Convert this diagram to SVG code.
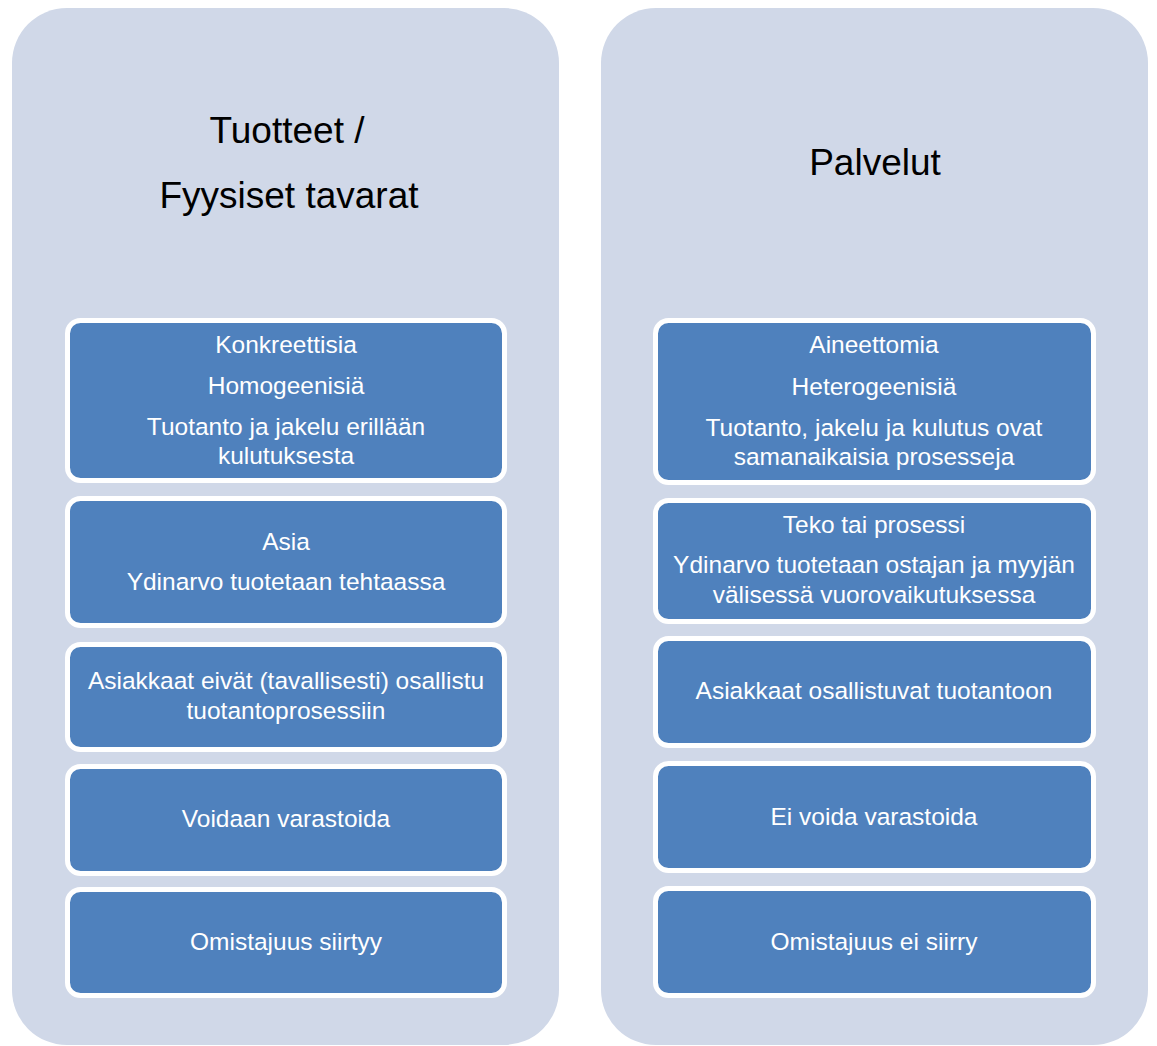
<svg xmlns="http://www.w3.org/2000/svg" width="1157" height="1046" viewBox="0 0 1157 1046">
<style>
.cont{fill:#D0D8E8}
.box rect{fill:#4F81BD;stroke:#FFFFFF;stroke-width:5}
.box text{fill:#FFFFFF;font-family:"Liberation Sans",Arial,sans-serif;font-size:24.5px;text-anchor:middle}
.title{fill:#000000;font-family:"Liberation Sans",Arial,sans-serif;font-size:37px;text-anchor:middle}
</style>
<rect width="1157" height="1046" fill="#FFFFFF"/>
<g id="col-tuotteet">
<rect class="cont" x="12" y="8" width="547" height="1037" rx="55" ry="55"/>
<text class="title" x="287" y="143">Tuotteet /</text>
<text class="title" x="289" y="208">Fyysiset tavarat</text>
</g>
<g id="col-palvelut">
<rect class="cont" x="601" y="8" width="547" height="1037" rx="55" ry="55"/>
<text class="title" x="875" y="175">Palvelut</text>
</g>
<g id="connectors"></g>
<g id="l1" class="box"><rect x="67.5" y="320.5" width="437" height="160" rx="13"/>
<text x="286" y="353">Konkreettisia</text><text x="286" y="394">Homogeenisiä</text><text x="286" y="435">Tuotanto ja jakelu erillään</text><text x="286" y="464">kulutuksesta</text></g>
<g id="l2" class="box"><rect x="67.5" y="498.5" width="437" height="127" rx="13"/>
<text x="286" y="550">Asia</text><text x="286" y="590">Ydinarvo tuotetaan tehtaassa</text></g>
<g id="l3" class="box"><rect x="67.5" y="644.5" width="437" height="105" rx="13"/>
<text x="286" y="689">Asiakkaat eivät (tavallisesti) osallistu</text><text x="286" y="719">tuotantoprosessiin</text></g>
<g id="l4" class="box"><rect x="67.5" y="766.5" width="437" height="107" rx="13"/>
<text x="286" y="827">Voidaan varastoida</text></g>
<g id="l5" class="box"><rect x="67.5" y="889.5" width="437" height="106" rx="13"/>
<text x="286" y="950">Omistajuus siirtyy</text></g>
<g id="r1" class="box"><rect x="655.5" y="320.5" width="438" height="162" rx="13"/>
<text x="874" y="353">Aineettomia</text><text x="874" y="395">Heterogeenisiä</text><text x="874" y="436">Tuotanto, jakelu ja kulutus ovat</text><text x="874" y="465">samanaikaisia prosesseja</text></g>
<g id="r2" class="box"><rect x="655.5" y="500.5" width="438" height="121" rx="13"/>
<text x="874" y="533">Teko tai prosessi</text><text x="874" y="573">Ydinarvo tuotetaan ostajan ja myyjän</text><text x="874" y="603">välisessä vuorovaikutuksessa</text></g>
<g id="r3" class="box"><rect x="655.5" y="638.5" width="438" height="107" rx="13"/>
<text x="874" y="699">Asiakkaat osallistuvat tuotantoon</text></g>
<g id="r4" class="box"><rect x="655.5" y="763.5" width="438" height="107" rx="13"/>
<text x="874" y="825">Ei voida varastoida</text></g>
<g id="r5" class="box"><rect x="655.5" y="888.5" width="438" height="107" rx="13"/>
<text x="874" y="950">Omistajuus ei siirry</text></g>
</svg>
